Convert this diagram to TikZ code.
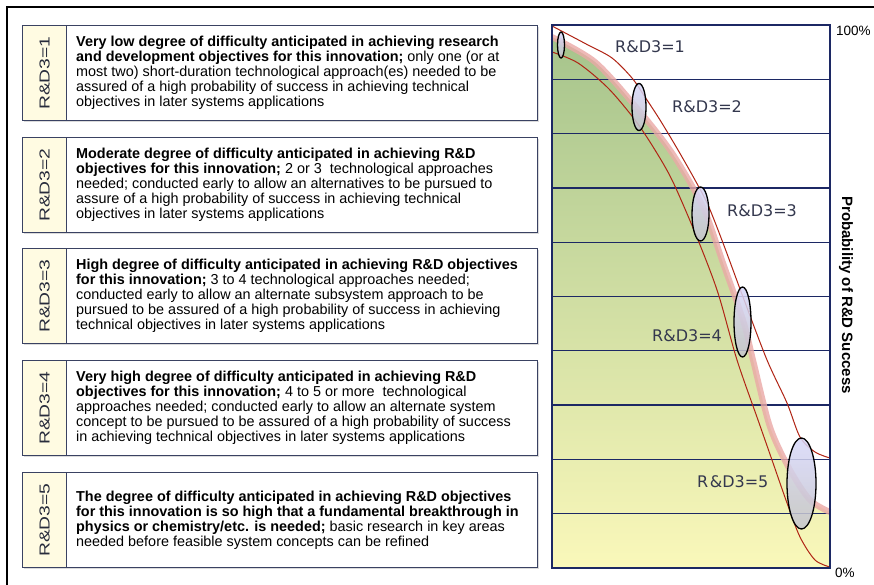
\documentclass[tikz,border=0pt]{standalone}
\usepackage{fontspec}
\setmainfont{Liberation Sans}
\newfontfamily\dejavu{DejaVu Sans}
\newfontfamily\labfont[FakeStretch=1.33]{Liberation Sans}
\definecolor{boxc}{RGB}{58,66,98}
\definecolor{cream}{RGB}{255,251,226}
\definecolor{labc}{RGB}{40,44,60}
\definecolor{navy}{RGB}{28,40,100}
\definecolor{chartc}{RGB}{52,56,78}
\definecolor{gtop}{RGB}{166,196,140}
\definecolor{gmid}{RGB}{214,222,150}
\definecolor{gbot}{RGB}{250,248,186}
\definecolor{pinkc}{RGB}{234,168,166}
\definecolor{redc}{RGB}{176,36,20}
\definecolor{elltop}{RGB}{216,216,250}
\definecolor{ellbot}{RGB}{196,196,204}
\begin{document}
\begin{tikzpicture}[x=1pt,y=-1pt,
  boxframe/.style={draw=boxc, line width=1.4pt, fill=white, minimum width=471pt, minimum height=95pt, anchor=north west, inner sep=0pt},
  labcell/.style={draw=boxc, line width=1.4pt, fill=cream, minimum width=44pt, minimum height=95pt, anchor=north west, inner sep=0pt},
  shadowbox/.style={fill=black!14, minimum width=515pt, minimum height=95pt, anchor=north west, inner sep=0pt},
  desc/.style={anchor=west, align=left, inner sep=0pt, font=\fontsize{14.4}{15}\selectfont, text=black},
  labtxt/.style={rotate=90, inner sep=0pt, font=\labfont\fontsize{14.5}{14.5}\selectfont, text=labc},
  chartlab/.style={inner sep=0pt, font=\dejavu\fontsize{16}{16}\selectfont, text=chartc},
  gridline/.style={draw=navy, line width=1.3pt},
  ell/.style={draw=black, line width=1.3pt, top color=elltop, bottom color=ellbot, fill opacity=0.85},
  redline/.style={draw=redc, line width=1pt},
]
\useasboundingbox (0,0) rectangle (874,585);
\fill[white] (0,0) rectangle (874,585);
% outer frame
\draw[black, line width=2.6pt] (7,585) -- (7,7) -- (874,7);

% ---------- boxes ----------
\foreach \t/\n in {25/1,137/2,248/3,360/4,472/5}{
  \node[shadowbox] (sh\n) at (23.5,\t+1.5) {};
  \node[labcell] (lab\n) at (22,\t) {};
  \node[boxframe] (box\n) at (66,\t) {};
  \node[labtxt] (labt\n) at (lab\n.center) {R\&D3=\n};
}
\node[desc] (d1) at ([xshift=10pt]box1.west) {\textbf{Very low degree of difficulty anticipated in achieving research}\\
\textbf{and development objectives for this innovation;} only one (or at\\
most two) short-duration technological approach(es) needed to be\\
assured of a high probability of success in achieving technical\\
objectives in later systems applications};
\node[desc] (d2) at ([xshift=10pt]box2.west) {\textbf{Moderate degree of difficulty anticipated in achieving R\&D}\\
\textbf{objectives for this innovation;} 2 or 3 \ technological approaches\\
needed; conducted early to allow an alternatives to be pursued to\\
assure of a high probability of success in achieving technical\\
objectives in later systems applications};
\node[desc] (d3) at ([xshift=10pt]box3.west) {\textbf{High degree of difficulty anticipated in achieving R\&D objectives}\\
\textbf{for this innovation;} 3 to 4 technological approaches needed;\\
conducted early to allow an alternate subsystem approach to be\\
pursued to be assured of a high probability of success in achieving\\
technical objectives in later systems applications};
\node[desc] (d4) at ([xshift=10pt]box4.west) {\textbf{Very high degree of difficulty anticipated in achieving R\&D}\\
\textbf{objectives for this innovation;} 4 to 5 or more \ technological\\
approaches needed; conducted early to allow an alternate system\\
concept to be pursued to be assured of a high probability of success\\
in achieving technical objectives in later systems applications};
\node[desc] (d5) at ([xshift=10pt]box5.west) {\textbf{The degree of difficulty anticipated in achieving R\&D objectives}\\
\textbf{for this innovation is so high that a fundamental breakthrough in}\\
\textbf{physics or chemistry/etc. is needed;} basic research in key areas\\
needed before feasible system concepts can be refined};

% ---------- chart ----------
\shade[top color=gtop, middle color=gmid, bottom color=gbot]
  plot[smooth] coordinates{(552,37) (595,62) (636,107) (672,153) (703,207) (723,263) (743,320) (753,360) (770,427) (790,470) (810,500) (830,512)}
  -- (830,568) -- (552,568) -- cycle;
\foreach \k in {1,...,9}{
  \draw[gridline] (552,25+54.3*\k) -- (830,25+54.3*\k);
}
\draw[pinkc, line width=6pt, opacity=0.8]
  plot[smooth] coordinates{(552,37) (595,62) (636,107) (672,153) (703,207) (723,263) (743,320) (753,360) (770,427) (790,470) (810,500) (830,512)};
\draw[redline] plot[smooth, tension=0.5] coordinates{(552,26) (588,45) (612,58) (632,78) (645,97) (660,120) (678,150) (695,180) (708,205) (723,243) (743,297) (767,360) (787,403) (800,437) (815,452) (830,458)};
\draw[redline] plot[smooth, tension=0.5] coordinates{(552,52) (578,63) (608,88) (635,120) (655,150) (673,182) (698,240) (718,293) (737,360) (758,420) (772,460) (787,503) (800,537) (815,560) (830,567)};

\draw[ell] (561,45) ellipse [x radius=3.5, y radius=13];
\draw[ell] (639,107) ellipse [x radius=7, y radius=23.5];
\draw[ell] (700.5,214) ellipse [x radius=8.5, y radius=27];
\draw[ell] (742.5,322) ellipse [x radius=8.5, y radius=35];
\draw[ell] (801.5,483.5) ellipse [x radius=14.5, y radius=45.5];

\draw[navy, line width=2pt] (552,25) rectangle (830,568);

\node[chartlab, anchor=west] (c1) at (615,47) {R\&D3=1};
\node[chartlab, anchor=west] (c2) at (672,107) {R\&D3=2};
\node[chartlab, anchor=west] (c3) at (727,211) {R\&D3=3};
\node[chartlab, anchor=west] (c4) at (652,336) {R\&D3=4};
\node[chartlab, anchor=west] (c5) at (697,482) {R\hspace{1.5pt}\&D3=5};

\node[anchor=west, inner sep=0pt, font=\fontsize{13.5}{14}\selectfont] (p100) at (836,31) {100\%};
\node[anchor=west, inner sep=0pt, font=\fontsize{13.5}{14}\selectfont] (p0) at (835,573) {0\%};
\node[rotate=-90, inner sep=0pt, font=\bfseries\fontsize{15}{15}\selectfont] (yl) at (846,295) {Probability of R\&D Success};
\end{tikzpicture}
\end{document}
